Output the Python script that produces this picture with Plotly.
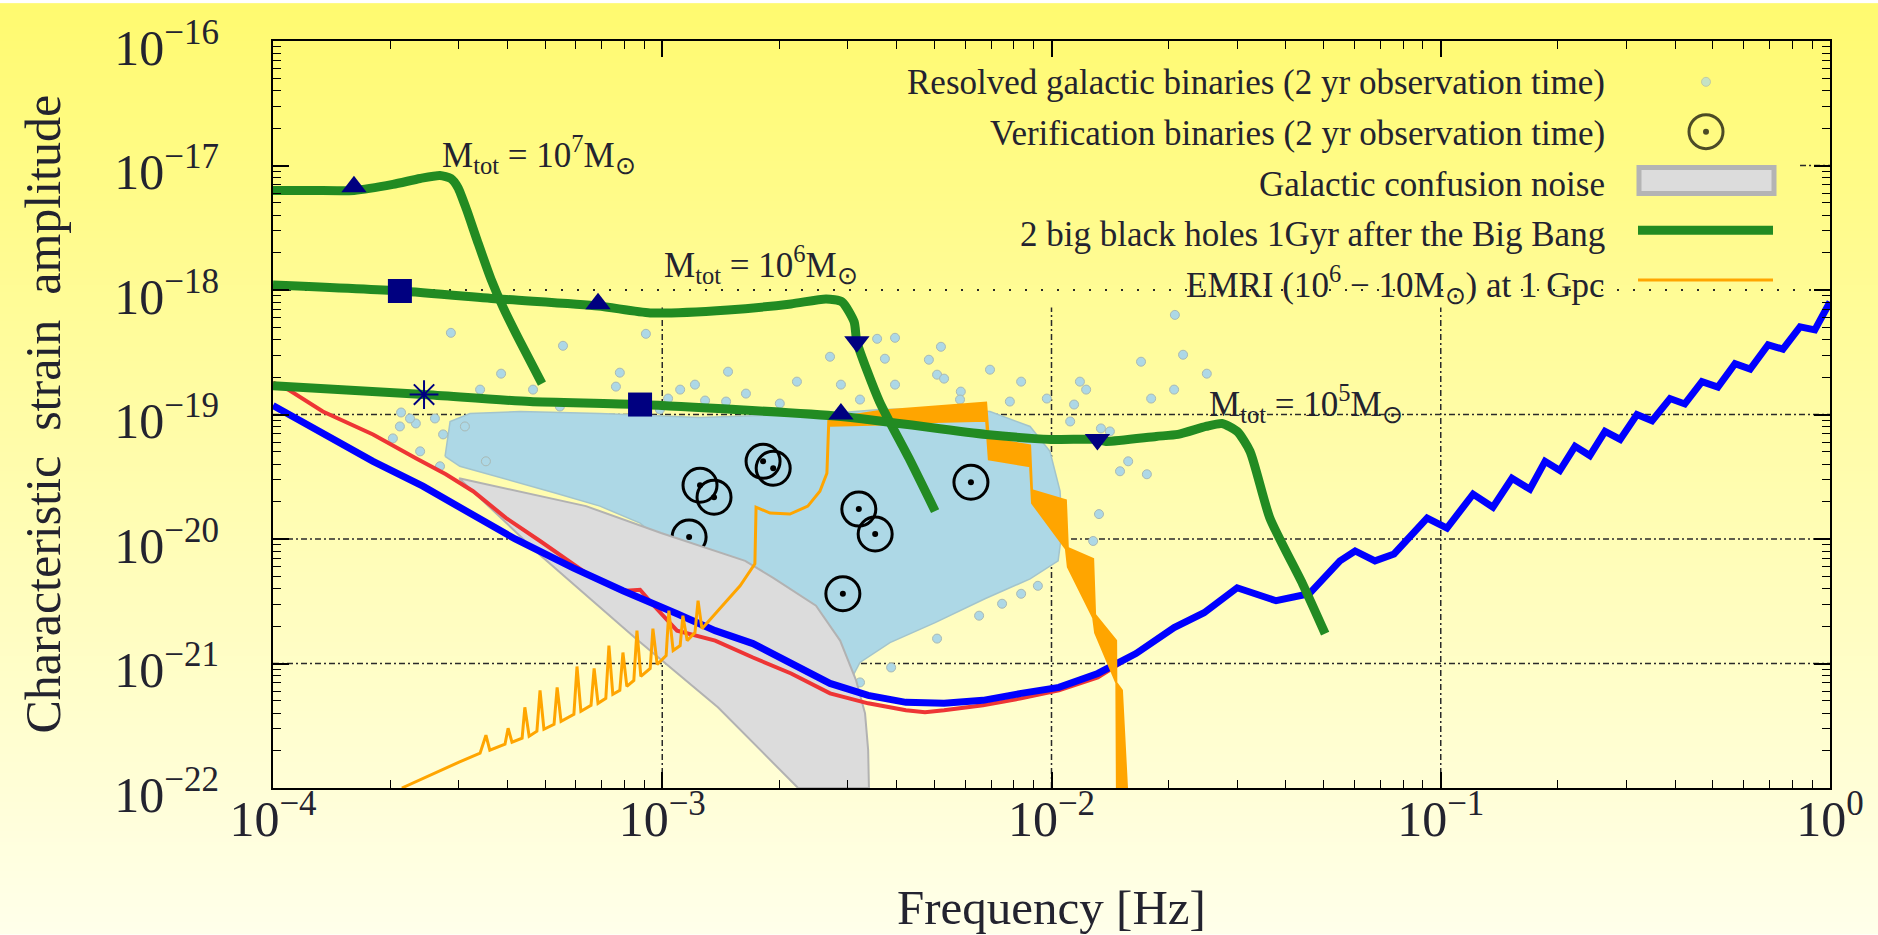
import base64
import struct
import zlib

import numpy as np
import plotly.graph_objects as go

# ---------------------------------------------------------------- data (log10 values)
# Massive black hole binaries (green curves)
bh7_logf = [-4.0, -3.899, -3.792, -3.692, -3.622, -3.571, -3.543, -3.525, -3.503, -3.474, -3.440, -3.407, -3.365, -3.309]
bh7_logh = [-17.2, -17.2, -17.2, -17.152, -17.104, -17.08, -17.104, -17.176, -17.352, -17.616, -17.912, -18.152, -18.416, -18.752]

bh6_logf = [-4.0, -3.674, -3.417, -3.165, -3.031, -2.831, -2.669, -2.579, -2.538, -2.507, -2.500, -2.442, -2.366, -2.299]
bh6_logh = [-17.96, -18.008, -18.072, -18.128, -18.184, -18.16, -18.112, -18.072, -18.096, -18.256, -18.416, -18.896, -19.352, -19.776]

bh5_logf = [-4.0, -3.612, -3.340, -3.057, -2.541, -2.168, -2.001, -1.882, -1.860, -1.731, -1.675, -1.603, -1.562,
            -1.523, -1.490, -1.439, -1.355, -1.297]
bh5_logh = [-18.768, -18.84, -18.896, -18.92, -19.016, -19.16, -19.2, -19.2, -19.216, -19.176, -19.16, -19.096, -19.072,
             -19.136, -19.296, -19.832, -20.36, -20.76]

# markers on the black hole tracks
tri_up_logf = [-3.792, -3.165, -2.541]
tri_up_logh = [-17.17, -18.11, -18.995]
square_logf = [-3.674, -3.057]
square_logh = [-18.008, -18.92]
tri_down_logf = [-2.500, -1.882]
tri_down_logh = [-18.416, -19.2]
star_logf = [-3.612]
star_logh = [-18.84]

# Sensitivity curves
blue_logf = [-4.0, -3.872, -3.743, -3.615, -3.486, -3.378, -3.229, -3.101, -2.962, -2.864, -2.767, -2.669, -2.569,
             -2.471, -2.374, -2.276, -2.176, -2.078, -1.981, -1.881, -1.783, -1.685, -1.608, -1.523, -1.423, -1.338,
             -1.259, -1.220, -1.169, -1.120, -1.035, -0.984, -0.917, -0.866, -0.817, -0.771, -0.732, -0.694, -0.655,
             -0.617, -0.578, -0.539, -0.496, -0.457, -0.411, -0.373, -0.329, -0.288, -0.244, -0.205, -0.159, -0.121,
             -0.077, -0.039, 0.0]
blue_logh = [-18.928, -19.152, -19.376, -19.576, -19.8, -20.0, -20.232, -20.416, -20.6, -20.736, -20.84, -21.0, -21.16,
             -21.256, -21.312, -21.32, -21.296, -21.24, -21.192, -21.08, -20.92, -20.712, -20.592, -20.392, -20.496,
             -20.44, -20.176, -20.096, -20.176, -20.12, -19.832, -19.912, -19.64, -19.745, -19.512, -19.6, -19.376,
             -19.45, -19.256, -19.33, -19.136, -19.2, -19.0, -19.05, -18.872, -18.915, -18.736, -18.78, -18.592,
             -18.635, -18.44, -18.475, -18.296, -18.32, -18.096]

red_low_logf = [-4.0, -3.961, -3.872, -3.743, -3.633, -3.556, -3.486, -3.401, -3.314, -3.229, -3.178, -3.145, -3.093,
                -3.057, -3.026, -2.962, -2.864, -2.767, -2.669, -2.569, -2.471, -2.374, -2.325, -2.276, -2.176, -2.078,
                -1.981, -1.881]
red_low_logh = [-18.744, -18.8, -18.976, -19.16, -19.352, -19.48, -19.616, -19.832, -20.016, -20.2, -20.312, -20.36,
                -20.416, -20.408, -20.52, -20.736, -20.816, -20.952, -21.08, -21.24, -21.32, -21.376, -21.392, -21.376,
                -21.336, -21.28, -21.216, -21.112]
red_merge_index = 20  # above ~0.015 Hz the red curve lies under the blue one

# EMRI (orange): low-frequency line and high-frequency noisy band (upper edge then lower edge)
emri_logf = [-3.669, -3.597, -3.522, -3.468, -3.453, -3.443, -3.404, -3.396, -3.386, -3.360, -3.353, -3.342, -3.322,
             -3.314, -3.304, -3.278, -3.270, -3.260, -3.227, -3.219, -3.209, -3.183, -3.175, -3.165, -3.145, -3.137,
             -3.127, -3.109, -3.101, -3.091, -3.073, -3.065, -3.055, -3.031, -3.024, -3.013, -2.990, -2.983, -2.972,
             -2.954, -2.947, -2.936, -2.916, -2.908, -2.898, -2.857, -2.800, -2.762, -2.759, -2.723, -2.672, -2.626,
             -2.595, -2.577, -2.572]
emri_logh = [-22.0, -21.896, -21.792, -21.72, -21.576, -21.696, -21.648, -21.52, -21.632, -21.6, -21.352, -21.584,
             -21.544, -21.216, -21.528, -21.488, -21.192, -21.464, -21.408, -21.024, -21.384, -21.336, -21.04, -21.32,
             -21.28, -20.856, -21.248, -21.216, -20.912, -21.184, -21.136, -20.736, -21.104, -21.04, -20.72, -21.008,
             -20.936, -20.576, -20.896, -20.856, -20.616, -20.816, -20.752, -20.496, -20.72, -20.576, -20.376, -20.2,
             -19.744, -19.792, -19.8, -19.736, -19.616, -19.472, -19.04]
emri_band_logf = [-2.569, -2.433, -2.299, -2.168, -2.161, -2.055, -2.050, -1.963, -1.958, -1.893, -1.888, -1.834,
                  -1.832, -1.806, -1.819, -1.834, -1.888, -1.893, -1.958, -1.963, -2.050, -2.055, -2.161, -2.168,
                  -2.299, -2.433, -2.569]
emri_band_logh = [-19.032, -18.968, -18.936, -18.904, -19.192, -19.248, -19.608, -19.688, -20.072, -20.16, -20.608,
                  -20.816, -22.0, -22.0, -21.216, -21.152, -20.752, -20.632, -20.224, -20.08, -19.712, -19.416,
                  -19.36, -19.05, -19.06, -19.08, -19.09]

# Galactic confusion noise (grey region outline)
conf_logf = [-3.522, -3.196, -3.003, -2.787, -2.715, -2.605, -2.543, -2.502, -2.479, -2.471, -2.469, -2.651, -2.857,
             -3.065, -3.314, -3.522]
conf_logh = [-19.512, -19.736, -19.952, -20.176, -20.312, -20.536, -20.816, -21.136, -21.4, -21.696, -22.0, -22.0,
             -21.352, -20.808, -20.128, -19.512]

# Resolved galactic binaries: dense cloud outline + isolated sources
cloud_logf = [-3.558, -3.545, -3.494, -3.365, -3.160, -2.903, -2.749, -2.569, -2.441, -2.286, -2.158, -2.055, -2.004,
              -1.978, -1.973, -1.983, -2.055, -2.171, -2.299, -2.415, -2.492, -2.530, -2.646, -2.903, -3.057, -3.160,
              -3.273, -3.401, -3.520, -3.558]
cloud_logh = [-19.336, -19.056, -18.992, -18.976, -18.992, -19.024, -19.008, -18.992, -18.96, -18.952, -18.976,
              -19.096, -19.296, -19.616, -19.936, -20.176, -20.32, -20.48, -20.672, -20.832, -20.992, -21.216,
              -20.816, -20.256, -19.872, -19.736, -19.632, -19.52, -19.416, -19.336]
gb_logf = [-3.543, -3.255, -3.042, -3.414, -3.109, -2.831, -3.119, -3.332, -3.468, -3.671, -3.692, -3.563, -3.633,
           -2.916, -2.954, -2.890, -2.785, -2.836, -2.985, -2.654, -2.569, -2.541, -2.428, -2.402, -2.315, -2.294,
           -2.276, -2.158, -2.078, -1.942, -1.911, -1.770, -1.685, -1.744, -1.873, -1.803, -1.755, -1.878, -1.893,
           -2.035, -2.078, -2.186, -2.294, -2.412, -2.492, -2.127, -1.683, -1.662, -1.601, -2.448, -2.402, -2.284,
           -2.233, -2.012, -1.927, -3.648, -3.584, -3.507, -3.453, -1.850, -1.952, -1.824, -3.263, -3.006, -2.698,
           -2.492, -2.235, -2.107, -3.622, -3.571, -3.674]
gb_logh = [-18.344, -18.448, -18.352, -18.672, -18.664, -18.656, -18.776, -18.8, -18.8, -18.984, -19.192, -19.16,
           -19.072, -18.76, -18.8, -18.888, -18.832, -18.896, -18.872, -18.736, -18.536, -18.76, -18.552, -18.76,
           -18.56, -18.68, -18.712, -18.64, -18.736, -18.92, -18.8, -18.576, -18.8, -18.872, -19.112, -19.376,
           -19.48, -19.8, -20.016, -20.376, -20.44, -20.616, -20.8, -21.032, -21.152, -20.52, -18.2, -18.52, -18.672,
           -18.392, -18.384, -18.456, -18.816, -18.872, -18.736, -19.032, -19.032, -19.096, -19.376, -19.136,
           -19.056, -19.456, -18.936, -18.96, -18.912, -18.88, -18.88, -18.896, -19.296, -19.416, -19.096]

# Verification binaries
vb_logf = [-2.903, -2.867, -2.741, -2.715, -2.931, -2.495, -2.453, -2.207, -2.536]
vb_logh = [-19.568, -19.664, -19.376, -19.432, -19.984, -19.760, -19.960, -19.544, -20.440]

# Axes ticks
x_tick_exp = [-4, -3, -2, -1, 0]
y_tick_exp = [-22, -21, -20, -19, -18, -17, -16]

# Grid: horizontal dash-dot lines, dotted 1e-18 line, short 1e-17 stub, vertical lines
grid_h_logh = [-19.0, -20.0, -21.0]
grid_v_logf = [-3.0, -2.0, -1.0]
grid_v_top_logh = -18.14
grid_17_start_logf = -0.077

mass_labels = ["M<sub>tot</sub> = 10<sup>7</sup>M<sub>⊙</sub>",
               "M<sub>tot</sub> = 10<sup>6</sup>M<sub>⊙</sub>",
               "M<sub>tot</sub> = 10<sup>5</sup>M<sub>⊙</sub>"]
mass_label_logf = [-3.571, -3.0, -1.601]
mass_label_logh = [-16.912, -17.792, -18.912]

legend_labels = ["Resolved galactic binaries (2 yr observation time)",
                 "Verification binaries (2 yr observation time)",
                 "Galactic confusion noise",
                 "2 big black holes 1Gyr after the Big Bang",
                 "EMRI (10<sup>6</sup> − 10M<sub>⊙</sub>) at 1 Gpc"]

# ---------------------------------------------------------------- styles
FONT = "Liberation Serif, Times New Roman, serif"
TXT = "#23232f"
GREEN = "#228B22"
NAVY = "#000080"
LBLUE = "#ADD8E6"
ORANGE = "#FFA500"
FIG_W, FIG_H = 1878, 935
M_L, M_R, M_T, M_B = 273, 48, 38, 147
PW, PH = FIG_W - M_L - M_R, FIG_H - M_T - M_B


def tp(a):
    return (10.0 ** np.asarray(a, dtype=float)).tolist()


def gradient_png(top, bottom, n=256):
    rows = b"".join(b"\x00" + bytes(int(round(t + (b - t) * i / (n - 1))) for t, b in zip(top, bottom))
                    for i in range(n))

    def chunk(tag, data):
        return struct.pack(">I", len(data)) + tag + data + struct.pack(">I", zlib.crc32(tag + data) & 0xffffffff)

    png = (b"\x89PNG\r\n\x1a\n" + chunk(b"IHDR", struct.pack(">IIBBBBB", 1, n, 8, 2, 0, 0, 0))
           + chunk(b"IDAT", zlib.compress(rows)) + chunk(b"IEND", b""))
    return "data:image/png;base64," + base64.b64encode(png).decode()


fig = go.Figure()
nohover = dict(hoverinfo="skip", showlegend=False)

# grid
GRID = dict(color="#2a2a2a", width=1.5, dash="6px,3px,2px,3px")
for lh in grid_h_logh:
    fig.add_trace(go.Scatter(x=tp([-4, 0]), y=tp([lh, lh]), mode="lines", line=GRID, **nohover))
fig.add_trace(go.Scatter(x=tp([-4, 0]), y=tp([-18, -18]), mode="lines",
                         line=dict(color="#2a2a2a", width=2, dash="2px,14px"), **nohover))
fig.add_trace(go.Scatter(x=tp([grid_17_start_logf, 0]), y=tp([-17, -17]), mode="lines", line=GRID, **nohover))
for lf in grid_v_logf:
    fig.add_trace(go.Scatter(x=tp([lf, lf]), y=tp([-22, grid_v_top_logh]), mode="lines", line=GRID, **nohover))

# resolved galactic binaries
fig.add_trace(go.Scatter(x=tp(cloud_logf), y=tp(cloud_logh), mode="lines", fill="toself", fillcolor=LBLUE,
                         line=dict(color="#a3c4cc", width=1.5), **nohover))
fig.add_trace(go.Scatter(x=tp(gb_logf), y=tp(gb_logh), mode="markers",
                         marker=dict(color=LBLUE, size=9, line=dict(color="#a9b9b4", width=1)), **nohover))
# verification binaries
fig.add_trace(go.Scatter(x=tp(vb_logf), y=tp(vb_logh), mode="markers",
                         marker=dict(symbol="circle-open", size=34, color="black", line=dict(width=3)),
                         **nohover))
fig.add_trace(go.Scatter(x=tp(vb_logf), y=tp(vb_logh), mode="markers",
                         marker=dict(symbol="circle", size=6, color="black"), **nohover))
# galactic confusion noise
fig.add_trace(go.Scatter(x=tp(conf_logf), y=tp(conf_logh), mode="lines", fill="toself", fillcolor="#DCDCDC",
                         line=dict(color="#b2b2b2", width=2), **nohover))
# sensitivity curves
red_logf = red_low_logf + blue_logf[red_merge_index:]
red_logh = red_low_logh + blue_logh[red_merge_index:]
fig.add_trace(go.Scatter(x=tp(red_logf), y=tp(red_logh), mode="lines", line=dict(color="#ee3535", width=4),
                         **nohover))
fig.add_trace(go.Scatter(x=tp(blue_logf), y=tp(blue_logh), mode="lines", line=dict(color="#0000ff", width=7),
                         **nohover))
# EMRI
fig.add_trace(go.Scatter(x=tp(emri_logf), y=tp(emri_logh), mode="lines", line=dict(color=ORANGE, width=3),
                         **nohover))
fig.add_trace(go.Scatter(x=tp(emri_band_logf), y=tp(emri_band_logh), mode="lines", fill="toself",
                         fillcolor=ORANGE, line=dict(color=ORANGE, width=2), **nohover))
# black hole tracks
for lf, lh in [(bh7_logf, bh7_logh), (bh6_logf, bh6_logh), (bh5_logf, bh5_logh)]:
    fig.add_trace(go.Scatter(x=tp(lf), y=tp(lh), mode="lines",
                             line=dict(color=GREEN, width=9, shape="spline", smoothing=0.6), **nohover))
fig.add_trace(go.Scatter(x=tp(tri_up_logf), y=tp(tri_up_logh), mode="markers",
                         marker=dict(symbol="triangle-up", size=22, color=NAVY), **nohover))
fig.add_trace(go.Scatter(x=tp(square_logf), y=tp(square_logh), mode="markers",
                         marker=dict(symbol="square", size=24, color=NAVY), **nohover))
fig.add_trace(go.Scatter(x=tp(tri_down_logf), y=tp(tri_down_logh), mode="markers",
                         marker=dict(symbol="triangle-down", size=22, color=NAVY), **nohover))
fig.add_trace(go.Scatter(x=tp(star_logf), y=tp(star_logh), mode="markers",
                         marker=dict(symbol="asterisk-open", size=24, color=NAVY, line=dict(width=2, color=NAVY)),
                         **nohover))


# ---------------------------------------------------------------- custom legend (text left of symbol)
def px_x(X):
    return (X - M_L) / PW


def px_y(Y):
    return (M_T + PH - Y) / PH


leg_text_x = px_x(1607)
leg_row_y = [px_y(v) for v in (80, 131, 182, 232, 282)]
leg_sym_x = px_x(1706)

fig.add_trace(go.Scatter(x=[leg_sym_x, leg_sym_x, leg_sym_x], y=[px_y(79), px_y(129), px_y(129)],
                         xaxis="x2", yaxis="y2", mode="markers",
                         marker=dict(symbol=["circle", "circle-open", "circle"], size=[9, 34, 6],
                                     color=[LBLUE, "black", "black"],
                                     line=dict(color=["#a9b9b4", "black", "black"], width=[1, 3, 0])),
                         **nohover))

shapes = [
    dict(type="rect", xref="paper", yref="paper", x0=px_x(1639), x1=px_x(1774), y0=px_y(191), y1=px_y(165),
         fillcolor="#DCDCDC", line=dict(color="#b4b4b4", width=5)),
    dict(type="line", xref="paper", yref="paper", x0=px_x(1638), x1=px_x(1773), y0=px_y(228), y1=px_y(228),
         line=dict(color=GREEN, width=9)),
    dict(type="line", xref="paper", yref="paper", x0=px_x(1638), x1=px_x(1773), y0=px_y(278), y1=px_y(278),
         line=dict(color=ORANGE, width=3)),
]

annotations = []
for txt, yy in zip(legend_labels, leg_row_y):
    annotations.append(dict(text=txt, xref="paper", yref="paper", x=leg_text_x, y=yy, xanchor="right",
                            yanchor="middle", showarrow=False, font=dict(family=FONT, size=35, color=TXT)))
for txt, lf, lh in zip(mass_labels, mass_label_logf, mass_label_logh):
    annotations.append(dict(text=txt, xref="x", yref="y", x=lf, y=lh, xanchor="left", yanchor="middle",
                            showarrow=False, font=dict(family=FONT, size=35, color=TXT)))
annotations.append(dict(text="Frequency [Hz]", xref="paper", yref="paper", x=0.5, y=0, yshift=-119,
                        xanchor="center", yanchor="middle", showarrow=False,
                        font=dict(family=FONT, size=49, color=TXT)))
annotations.append(dict(text="Characteristic\u00a0\u00a0strain\u00a0\u00a0amplitude", xref="paper", yref="paper",
                        x=0, xshift=42 - M_L, y=0.5, xanchor="center", yanchor="middle", textangle=-90,
                        showarrow=False, font=dict(family=FONT, size=50, color=TXT)))

axis_common = dict(type="log", ticks="inside", ticklen=16,
                   tickwidth=1.5, tickcolor="black", mirror="allticks", showline=True, linecolor="black",
                   linewidth=2, showgrid=False, zeroline=False,
                   tickfont=dict(family=FONT, size=50, color=TXT),
                   minor=dict(ticks="inside", ticklen=8, tickwidth=1.2, tickcolor="black", dtick="D1",
                              showgrid=False))

fig.update_layout(
    width=FIG_W, height=FIG_H,
    margin=dict(l=M_L, r=M_R, t=M_T, b=M_B, pad=0),
    paper_bgcolor="rgba(0,0,0,0)", plot_bgcolor="rgba(0,0,0,0)",
    showlegend=False,
    xaxis=dict(range=[-4, 0], tickmode="array", tickvals=tp(x_tick_exp),
               ticktext=["10<sup>\u2212%d</sup>" % -e if e < 0 else "10<sup>%d</sup>" % e for e in x_tick_exp],
               ticklabelstandoff=-14, **axis_common),
    yaxis=dict(range=[-22, -16], tickmode="array", tickvals=tp(y_tick_exp),
               ticktext=["10<sup>\u2212%d</sup>" % -e for e in y_tick_exp],
               ticklabelstandoff=42, ticklabelshift=6, **axis_common),
    xaxis2=dict(overlaying="x", range=[0, 1], visible=False),
    yaxis2=dict(overlaying="y", range=[0, 1], visible=False),
    shapes=shapes,
    annotations=annotations,
    images=[dict(source=gradient_png((255, 250, 112), (255, 255, 234)), xref="paper", yref="paper",
                 x=-M_L / PW, y=1 + M_T / PH, sizex=FIG_W / PW, sizey=FIG_H / PH, sizing="stretch",
                 xanchor="left", yanchor="top", layer="below")],
)

fig.write_html("out.html")
